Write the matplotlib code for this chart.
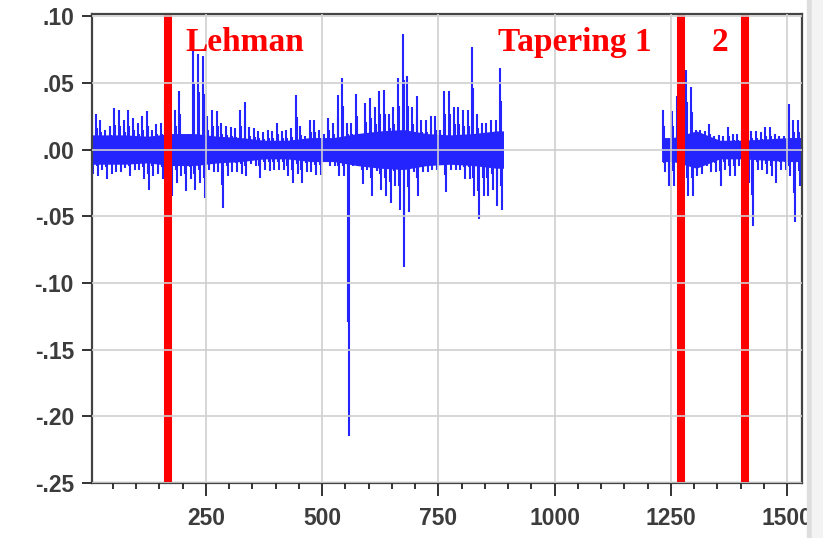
import numpy as np
import matplotlib.pyplot as plt
from matplotlib.ticker import MultipleLocator, FuncFormatter
from matplotlib.patches import Rectangle

start_1 = list(range(0, 890, 10))
upper_1 = [25, 27, 22, 15, 18, 31, 30, 22, 30, 24,
           20, 25, 29, 15, 19, 20, 37, 35, 30, 44,
           10, 12, 82, 72, 70, 25, 30, 29, 20, 18,
           17, 16, 30, 36, 17, 16, 14, 13, 15, 14,
           20, 14, 15, 16, 41, 18, 10, 22, 22, 15,
           12, 24, 20, 41, 54, 20, 20, 42, 10, 35,
           39, 32, 44, 45, 27, 32, 54, 87, 55, 32,
           40, 22, 22, 25, 25, 15, 44, 44, 32, 32,
           30, 30, 77, 27, 20, 20, 22, 22, 61]
lower_1 = [-18, -20, -15, -22, -18, -17, -17, -14, -20, -15,
           -15, -22, -30, -20, -18, -22, -28, -35, -25, -20,
           -31, -22, -30, -25, -36, -15, -17, -17, -44, -20,
           -17, -17, -18, -20, -11, -12, -21, -15, -16, -15,
           -15, -15, -20, -25, -18, -25, -17, -17, -19, -19,
           -7, -12, -12, -20, -20, -215, -12, -12, -26, -15,
           -35, -16, -30, -35, -40, -27, -45, -88, -47, -17,
           -35, -17, -17, -15, -15, -10, -32, -15, -15, -15,
           -22, -22, -35, -52, -35, -35, -30, -42, -45]
# dense middle of the band, one value per 50 observations
core_1 = [11, 11, 10, 12, 12, 10, 9, 7, 7, 9,
          9, 12, 14, 15, 12, 11, 12, 14]

start_2 = list(range(1230, 1530, 10))
upper_2 = [30, 7, 29, 40, 40, 60, 47, 15, 15, 14,
           19, 10, 11, 10, 17, 12, 12, 13, 82, 14,
           14, 13, 17, 17, 12, 10, 10, 34, 22, 22]
lower_2 = [-17, -27, -27, -15, -20, -35, -35, -20, -18, -12,
           -17, -17, -27, -15, -20, -20, -12, -15, -25, -57,
           -15, -15, -18, -20, -25, -15, -15, -20, -54, -27]
core_2 = [9, 14, 7, 7, 8, 9]

events = [168, 1272, 1410]
event_labels = ["Lehman", "Tapering 1", "2"]
label_x = [205, 878, 1338]

blue = '#2424ff'

fig = plt.figure(figsize=(8.23, 5.38), dpi=100)
ax = fig.add_axes([0.1118, 0.1022, 0.8627, 0.8717])

for s, u, l, c in [(start_1, upper_1, lower_1, core_1),
                   (start_2, upper_2, lower_2, core_2)]:
    s = np.array(s)
    u = np.array(u) / 1000
    l = np.array(l) / 1000
    c = np.array(c) / 1000
    # core band, smooth between block centres
    xc = np.concatenate([[s[0]], s[0] + 25 + 50 * np.arange(len(c)), [s[-1] + 10]])
    cc = np.concatenate([[c[0]], c, [c[-1]]])
    ax.fill_between(xc, -cc, cc, color=blue, lw=0, zorder=2)
    # spikes: up stroke and down stroke inside each bin
    ax.vlines(s + 3, 0, u, color=blue, lw=1.5, zorder=2)
    ax.vlines(s + 7, l, 0, color=blue, lw=1.5, zorder=2)
    ax.vlines(s + 5, 0.6 * l, 0.6 * u, color=blue, lw=1.5, zorder=2)

for e in events:
    ax.axvline(e, color='#ff0000', lw=5.8, zorder=2.2)

for t, x in zip(event_labels, label_x):
    ax.text(x, 0.0805, t, color='#ff0000', fontsize=24, fontweight='bold',
            family='Liberation Serif', ha='left', va='center', zorder=4)

ax.set_xlim(5, 1532)
ax.set_ylim(-0.25, 0.1016)
ax.xaxis.set_major_locator(MultipleLocator(250))
ax.xaxis.set_minor_locator(MultipleLocator(50))
ax.yaxis.set_major_locator(MultipleLocator(0.05))
ax.yaxis.set_major_formatter(FuncFormatter(lambda v, p: f"{v:.2f}".replace("0.", ".")))

ax.set_axisbelow(False)
ax.grid(True, which='major', color='#cfcfcf', lw=1.2)

ax.tick_params(axis='x', which='major', length=9.5, width=1.4, pad=8, color='#333333')
ax.tick_params(axis='x', which='minor', length=4, width=1.4, color='#333333')
ax.tick_params(axis='y', length=7, width=1.4, pad=6, color='#333333')
for lab in ax.get_xticklabels() + ax.get_yticklabels():
    lab.set_family('Liberation Sans')
    lab.set_fontsize(16.5)
    lab.set_fontweight('bold')
    lab.set_color('#3c3c3c')

for sp in ax.spines.values():
    sp.set_color('#444444')
    sp.set_linewidth(1.6)

fig.patches.append(Rectangle((807 / 823, 0), 5 / 823, 1, transform=fig.transFigure,
                             color='#dedede', zorder=10))
fig.patches.append(Rectangle((812 / 823, 0), 11 / 823, 1, transform=fig.transFigure,
                             color='#f3f3f3', zorder=10))

fig.savefig('out.png', dpi=100)
